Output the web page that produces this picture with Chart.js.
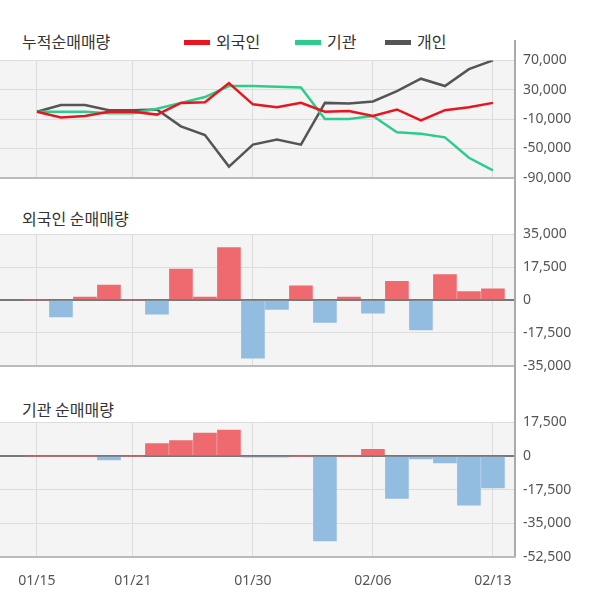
<!DOCTYPE html>
<html><head><meta charset="utf-8">
<script src="https://cdn.jsdelivr.net/npm/chart.js@4/dist/chart.umd.min.js"></script>
<style>
body{margin:0;width:600px;height:604px;background:#fff;position:relative;overflow:hidden;font-family:"Noto Sans CJK KR","Noto Sans",sans-serif}
.box{position:absolute;left:0;width:600px}
.t{position:absolute;font-size:16px;color:#333}
.lg{position:absolute;top:29px;font-size:16px;color:#333}
.lg span{display:inline-block;width:26px;height:5px;vertical-align:middle;margin-right:6px;margin-top:-3px}
#vline{position:absolute;left:514px;top:40px;width:2px;height:516px;background:#aaa}
</style></head><body>
<div class="t" style="left:22px;top:29px">누적순매매량</div>
<div class="lg" style="left:184px"><span style="background:#e8141e"></span>외국인</div>
<div class="lg" style="left:295px"><span style="background:#2ecc8a"></span>기관</div>
<div class="lg" style="left:385px"><span style="background:#555"></span>개인</div>
<div class="t" style="left:22px;top:206px">외국인 순매매량</div>
<div class="t" style="left:22px;top:397px">기관 순매매량</div>
<div class="box" style="top:44px;height:150px"><canvas id="c1"></canvas></div>
<div class="box" style="top:218px;height:164px"><canvas id="c2"></canvas></div>
<div class="box" style="top:406px;height:198px"><canvas id="c3"></canvas></div>
<div id="vline"></div>
<script>
const dates=["01/15","01/16","01/17","01/20","01/21","01/22","01/23","01/28","01/29","01/30","01/31","02/03","02/04","02/05","02/06","02/07","02/10","02/11","02/12","02/13"];
const labelIdx=[0,4,9,14,19];
const cumForeign=[0,-8000,-6000,0,0,-4000,12000,13000,39000,10000,6000,12000,0,1000,-6000,3000,-12000,2000,6000,12000];
const cumInst=[0,0,0,-2000,-2000,4000,12000,20000,35000,35000,34000,33000,-10000,-10000,-6000,-28000,-30000,-35000,-63000,-80000];
const cumIndiv=[0,9000,9000,2000,2000,3000,-20000,-32000,-75000,-45000,-38000,-45000,12000,11000,14000,28000,45000,35000,58000,70000];
const foreign=[0,-9000,1500,8000,0,-7500,16500,1500,28000,-31000,-5000,7500,-12000,1500,-7000,10000,-16000,13500,4500,6000];
const inst=[0,0,0,-2000,0,6500,8000,12000,13500,-500,-500,0,-44000,0,3500,-22000,-1500,-3500,-25500,-16500];
const ticks1=[70000,30000,-10000,-50000,-90000];
const ticks2=[35000,17500,0,-17500,-35000];
const ticks3=[17500,0,-17500,-35000,-52500];

const pts=a=>a.map((v,i)=>({x:i,y:v}));
const fmt=v=>v.toLocaleString('en-US');
function xScale(showLabels){
  return {type:'linear',min:-1.54,max:19.92,offset:false,
    afterBuildTicks:s=>{s.ticks=labelIdx.map(v=>({value:v}));},
    grid:{color:'#dcdcdc',drawTicks:false,offset:false},
    border:{color:'#bbb',width:2},
    ticks:{display:showLabels,padding:15,color:'#555',font:{size:14,family:'Noto Sans'},callback:v=>dates[v]}};
}
function yScale(min,max,tk){
  return {position:'right',min,max,
    afterBuildTicks:s=>{s.ticks=tk.map(v=>({value:v}));},
    afterFit:s=>{s.width=85;},
    grid:{color:c=>c.tick&&c.tick.value===0?'#777':'#dcdcdc',lineWidth:c=>c.tick&&c.tick.value===0?2:1,drawTicks:false},
    border:{display:false},
    ticks:{padding:8,color:'#555',font:{size:14,family:'Noto Sans'},callback:v=>fmt(v)}};
}
const bg={id:'bg',beforeDraw(c){const a=c.chartArea,x=c.ctx;x.save();x.fillStyle='#f4f4f4';x.fillRect(0,a.top,a.right,a.bottom-a.top);x.restore();}};
const base=(pad)=>({responsive:true,maintainAspectRatio:false,animation:false,
  layout:{padding:pad},plugins:{legend:{display:false},tooltip:{enabled:false}}});
function barColors(a){return a.map(v=>v>=0?'#ef6a6f':'#92bde0');}

new Chart(document.getElementById('c1'),{type:'line',
  data:{datasets:[
    {data:pts(cumForeign),borderColor:'#e8141e',borderWidth:2.5,pointRadius:0,tension:0},
    {data:pts(cumInst),borderColor:'#2ecc8a',borderWidth:2.5,pointRadius:0,tension:0},
    {data:pts(cumIndiv),borderColor:'#555',borderWidth:2.5,pointRadius:0,tension:0}]},
  options:Object.assign(base({top:4,bottom:8,left:0,right:0}),{scales:{x:xScale(false),y:yScale(-90000,70000,ticks1)}}),
  plugins:[bg]});
new Chart(document.getElementById('c2'),{type:'bar',
  data:{datasets:[{data:pts(foreign),backgroundColor:barColors(foreign),barThickness:23}]},
  options:Object.assign(base({top:4,bottom:8,left:0,right:0}),{scales:{x:xScale(false),y:yScale(-35000,35000,ticks2)}}),
  plugins:[bg]});
new Chart(document.getElementById('c3'),{type:'bar',
  data:{datasets:[{data:pts(inst),backgroundColor:barColors(inst),barThickness:23}]},
  options:Object.assign(base({top:3,bottom:0,left:0,right:0}),{scales:{x:xScale(true),y:yScale(-52500,17500,ticks3)}}),
  plugins:[bg]});
</script></body></html>
